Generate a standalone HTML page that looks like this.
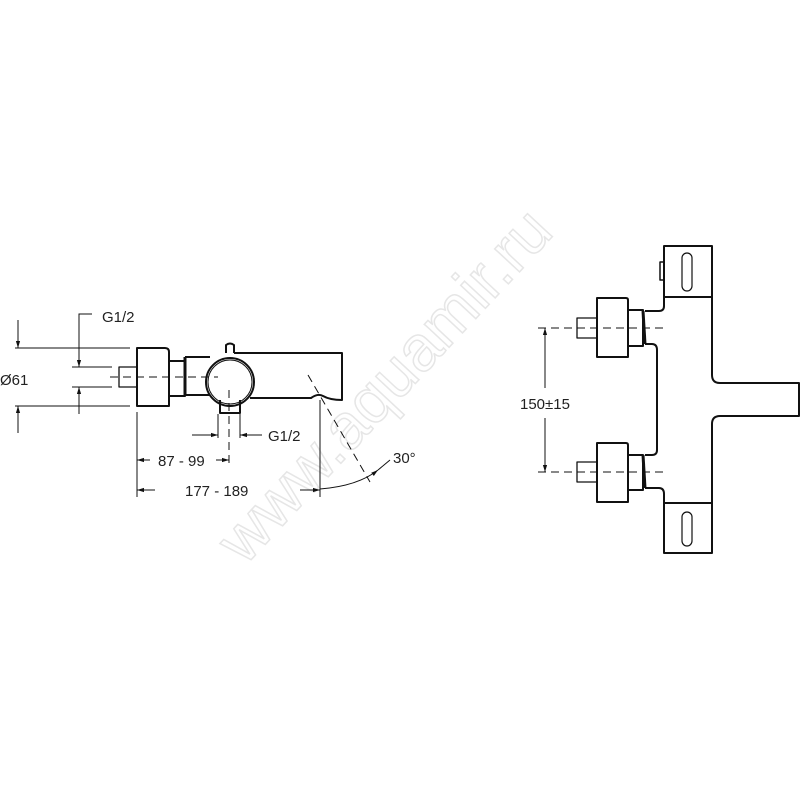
<!DOCTYPE html>
<html><head><meta charset="utf-8"><style>
html,body{margin:0;padding:0;background:#fff;width:800px;height:800px;overflow:hidden}
svg{display:block}
text{font-family:"Liberation Sans",sans-serif;font-size:15px;fill:#222}
</style></head><body>
<svg width="800" height="800" viewBox="0 0 800 800" xmlns="http://www.w3.org/2000/svg">
<defs>
<marker id="a" viewBox="0 0 10 10" refX="10" refY="5" markerWidth="7" markerHeight="7" orient="auto-start-reverse"><path d="M0,2 L10,5 L0,8z" fill="#111"/></marker>
</defs>
<text x="400" y="400" transform="rotate(-47 400 400)" text-anchor="middle" style="font-size:64px;fill:none;stroke:#e6e6e6;stroke-width:1.5">www.aquamir.ru</text>

<g stroke="#111" fill="none" stroke-width="1">
<!-- left dims -->
<line x1="15" y1="348" x2="130" y2="348"/>
<line x1="15" y1="406" x2="130" y2="406"/>
<line x1="18" y1="320" x2="18" y2="348" marker-end="url(#a)"/>
<line x1="18" y1="433" x2="18" y2="406" marker-end="url(#a)"/>
<line x1="72" y1="367" x2="112" y2="367"/>
<line x1="72" y1="387" x2="112" y2="387"/>
<polyline points="92,314 79,314 79,367" marker-end="url(#a)"/>
<line x1="79" y1="414" x2="79" y2="387" marker-end="url(#a)"/>
<line x1="110" y1="377" x2="218" y2="377" stroke-dasharray="8,5"/>
<!-- lower G1/2 -->
<line x1="218" y1="414" x2="218" y2="438"/>
<line x1="240" y1="414" x2="240" y2="438"/>
<line x1="192" y1="435" x2="218" y2="435" marker-end="url(#a)"/>
<line x1="262" y1="435" x2="240" y2="435" marker-end="url(#a)"/>
<line x1="229" y1="390" x2="229" y2="465" stroke-dasharray="8,5"/>
<line x1="137" y1="412" x2="137" y2="497"/>
<line x1="320" y1="400" x2="320" y2="497"/>
<line x1="150" y1="460" x2="137" y2="460" marker-end="url(#a)"/>
<line x1="216" y1="460" x2="229" y2="460" marker-end="url(#a)"/>
<line x1="155" y1="490" x2="137" y2="490" marker-end="url(#a)"/>
<line x1="300" y1="490" x2="320" y2="490" marker-end="url(#a)"/>
<line x1="308" y1="375" x2="370" y2="482" stroke-dasharray="8,5"/>
<path d="M320,489 Q358,486 378,470" marker-end="url(#a)"/>
<line x1="378" y1="470" x2="390" y2="460"/>
<!-- right dims -->
<line x1="538" y1="328" x2="663" y2="328" stroke-dasharray="8,5"/>
<line x1="538" y1="472" x2="663" y2="472" stroke-dasharray="8,5"/>
<line x1="545" y1="388" x2="545" y2="328" marker-end="url(#a)"/>
<line x1="545" y1="418" x2="545" y2="472" marker-end="url(#a)"/>
</g>

<g stroke="#111" fill="none" stroke-width="2" stroke-linejoin="round">
<!-- left view -->
<rect x="119" y="367" width="18" height="20" stroke-width="1.3"/>
<path d="M137,348 H165 Q169,348 169,352 V406 H137 Z"/>
<path d="M169,361 H185 V396 H169"/>
<path d="M185,357 H210 M185,395 H210"/>
<line x1="185" y1="357" x2="185" y2="395" stroke-width="3"/>
<circle cx="230" cy="382" r="24"/>
<circle cx="230" cy="382" r="22" stroke-width="1"/>
<path d="M226,353 V345 Q230,342 234,345 V353"/>
<path d="M234,353 H342 V400 Q330,400 323,396 Q318,393 311,398 H250"/>
<path d="M220,400 V413 H240 V400"/>
<!-- right view -->
<rect x="664" y="246" width="48" height="51"/>
<rect x="682" y="253" width="10" height="38" rx="5" stroke-width="1.2"/>
<rect x="660" y="262" width="4" height="18" stroke-width="1.5"/>
<rect x="664" y="503" width="48" height="50"/>
<rect x="682" y="512" width="10" height="34" rx="5" stroke-width="1.2"/>
<path d="M712,297 V375 Q712,383 720,383 H799 V416 H720 Q712,416 712,424 V503"/>
<path d="M664,297 V306 Q664,311 659,311 H645 M645,344 H652 Q657,344 657,350 V450 Q657,455 652,455 H645 M645,488 H659 Q664,488 664,494 V503"/>
<!-- upper valve -->
<rect x="577" y="318" width="20" height="20" stroke-width="1.3"/>
<path d="M597,298 H626 Q628,298 628,300 V357 H597 Z"/>
<path d="M628,310 H643 V346 H628"/>
<line x1="643" y1="311" x2="645" y2="344" stroke-width="3"/>
<!-- lower valve -->
<rect x="577" y="462" width="20" height="20" stroke-width="1.3"/>
<path d="M597,443 H626 Q628,443 628,445 V502 H597 Z"/>
<path d="M628,455 H643 V490 H628"/>
<line x1="643" y1="455" x2="645" y2="488" stroke-width="3"/>
</g>

<text x="102" y="322">G1/2</text>
<text x="0" y="385">Ø61</text>
<text x="268" y="441">G1/2</text>
<text x="158" y="466">87 - 99</text>
<text x="185" y="496">177 - 189</text>
<text x="393" y="463">30°</text>
<text x="520" y="409">150±15</text>
</svg>
</body></html>
